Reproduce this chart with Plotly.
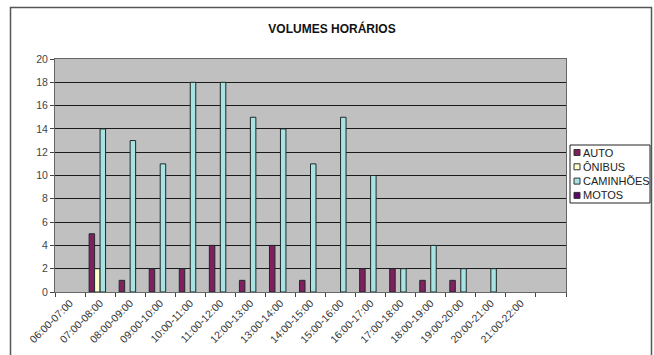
import plotly.graph_objects as go

# Hourly counts by vehicle class
hours = ["06:00-07:00", "07:00-08:00", "08:00-09:00", "09:00-10:00",
         "10:00-11:00", "11:00-12:00", "12:00-13:00", "13:00-14:00",
         "14:00-15:00", "15:00-16:00", "16:00-17:00", "17:00-18:00",
         "18:00-19:00", "19:00-20:00", "20:00-21:00", "21:00-22:00"]
auto = [0, 5, 1, 2, 2, 4, 1, 4, 1, 0, 2, 2, 1, 1, 0, 0]
onibus = [0, 2, 0, 0, 0, 0, 0, 0, 0, 0, 0, 0, 0, 0, 0, 0]
caminhoes = [0, 14, 13, 11, 18, 18, 15, 14, 11, 15, 10, 2, 4, 2, 2, 0]
motos = [0, 0, 0, 0, 0, 0, 0, 0, 0, 0, 0, 0, 0, 0, 0, 0]

series_names = ["AUTO", "ÔNIBUS", "CAMINHÕES", "MOTOS"]
series_values = [auto, onibus, caminhoes, motos]
series_colors = ["#80205f", "#ffffcc", "#a8e2e2", "#5a0a66"]

y_ticks = list(range(0, 21, 2))

FONT = "Liberation Sans, Arial, sans-serif"
W, H = 654, 355
L, R, T, B = 55, 566, 59, 292


def px_x(x):
    return (x - L) / (R - L)


def px_y(y):
    return (B - y) / (B - T)


xs = list(range(len(hours)))

fig = go.Figure()
for name, vals, col in zip(series_names, series_values, series_colors):
    # empty bars get no outline so nothing shows on the baseline
    fig.add_trace(go.Bar(
        x=xs, y=vals, name=name,
        marker=dict(color=col,
                    line=dict(color="#1e2a2a",
                              width=[0 if v == 0 else 1 for v in vals])),
        showlegend=False,
    ))

shapes = []
annotations = []

# Outer chart border
shapes.append(dict(type="rect", xref="paper", yref="paper",
                   x0=px_x(10.5), x1=px_x(651.5), y0=px_y(362), y1=px_y(7.5),
                   line=dict(color="#555555", width=1.5), layer="below"))

# Legend box with swatches
shapes.append(dict(type="rect", xref="paper", yref="paper",
                   x0=px_x(570), x1=px_x(650), y0=px_y(203), y1=px_y(145),
                   line=dict(color="#222222", width=1), fillcolor="white"))
for i, (name, col) in enumerate(zip(series_names, series_colors)):
    cy = 152.5 + i * 14.3
    shapes.append(dict(type="rect", xref="paper", yref="paper",
                       x0=px_x(574), x1=px_x(580), y0=px_y(cy + 3), y1=px_y(cy - 3),
                       line=dict(color="#333333", width=1), fillcolor=col))
    annotations.append(dict(text=name, xref="paper", yref="paper",
                            x=px_x(581), y=px_y(cy), xanchor="left", yanchor="middle",
                            showarrow=False,
                            font=dict(family=FONT, size=11, color="#222222")))

fig.update_layout(
    width=W, height=H,
    margin=dict(l=L, r=W - R, t=T, b=H - B),
    paper_bgcolor="white",
    plot_bgcolor="#c0c0c0",
    barmode="group",
    bargap=0.27,
    bargroupgap=0,
    title=dict(text="<b>VOLUMES HORÁRIOS</b>", xref="paper", x=px_x(332),
               yref="container", y=1 - 29 / H, xanchor="center", yanchor="middle",
               font=dict(family=FONT, size=12, color="#111111")),
    font=dict(family=FONT, size=10, color="#333333"),
    shapes=shapes,
    annotations=annotations,
    showlegend=False,
)

fig.update_xaxes(
    range=[-0.5, len(hours) + 0.5],
    tickmode="array", tickvals=xs, ticktext=hours,
    tickangle=-45, ticks="",
    tickfont=dict(family=FONT, size=10.5, color="#333333"),
    minor=dict(tickmode="array", tickvals=[i - 0.5 for i in range(len(hours) + 2)],
               ticks="outside", ticklen=4, tickcolor="#444444", showgrid=False),
    showgrid=False, zeroline=False, automargin=False,
    showline=True, linecolor="#666666", linewidth=1, mirror=True,
)
fig.update_yaxes(
    range=[0, 20], tickmode="array", tickvals=y_ticks,
    ticks="outside", ticklen=4, tickcolor="#444444",
    tickfont=dict(family=FONT, size=10.5, color="#444444"),
    showgrid=True, gridcolor="#1a1a1a", gridwidth=1,
    zeroline=False, automargin=False,
    showline=True, linecolor="#666666", linewidth=1, mirror=True,
)

fig.write_html("out.html")
